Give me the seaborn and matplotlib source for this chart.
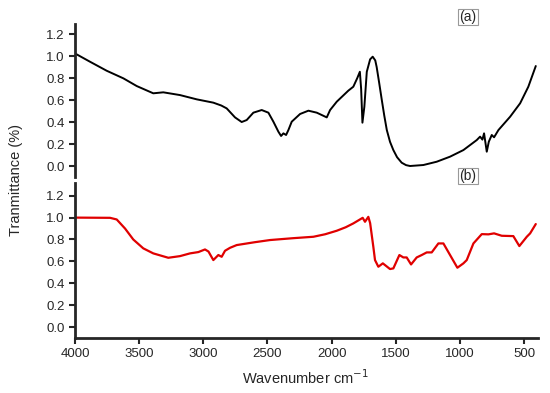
import numpy as np
import pandas as pd
import matplotlib.pyplot as plt
import seaborn as sns

sns.set_theme(style="ticks")
plt.rcParams['font.family'] = ['Liberation Sans', 'DejaVu Sans']

# (a) black spectrum
wn_a = [4000, 3987, 3883, 3753, 3623, 3519, 3390, 3312, 3182, 3051, 2922, 2860,
        2818, 2753, 2701, 2662, 2610, 2545, 2493, 2454, 2415, 2394, 2376, 2355,
        2337, 2311, 2246, 2181, 2116, 2065, 2038, 2012, 1960, 1870, 1831, 1800,
        1780, 1770, 1760, 1745, 1726, 1700, 1680, 1660, 1649, 1630, 1609, 1590,
        1570, 1545, 1519, 1490, 1454, 1420, 1389, 1285, 1181, 1077, 973, 869,
        843, 825, 812, 791, 775, 752, 734, 700, 609, 531, 467, 409]
tr_a = [1.02, 1.015, 0.948, 0.866, 0.797, 0.727, 0.661, 0.670, 0.645, 0.606, 0.576, 0.55,
        0.524, 0.442, 0.40, 0.418, 0.485, 0.509, 0.485, 0.403, 0.312, 0.273, 0.297, 0.282,
        0.327, 0.403, 0.473, 0.503, 0.485, 0.457, 0.442, 0.509, 0.585, 0.685, 0.721, 0.80,
        0.857, 0.70, 0.394, 0.539, 0.857, 0.97, 0.994, 0.96, 0.90, 0.76, 0.60, 0.46,
        0.327, 0.22, 0.145, 0.08, 0.03, 0.008, 0.0, 0.009, 0.039, 0.085, 0.145, 0.236,
        0.267, 0.24, 0.297, 0.13, 0.221, 0.282, 0.261, 0.327, 0.448, 0.57, 0.721, 0.909]

# (b) red spectrum
wn_b = [4000, 3727, 3675, 3610, 3546, 3468, 3390, 3273, 3182, 3104, 3039, 2987,
        2960, 2922, 2883, 2857, 2831, 2792, 2740, 2600, 2480, 2300, 2142, 2050,
        1960, 1890, 1831, 1758, 1740, 1714, 1700, 1675, 1662, 1636, 1601, 1545,
        1519, 1472, 1441, 1415, 1381, 1337, 1298, 1259, 1220, 1168, 1129, 1077,
        1020, 973, 947, 895, 830, 778, 734, 674, 584, 537, 479, 453, 409]
tr_b = [1.0, 0.998, 0.983, 0.90, 0.80, 0.719, 0.673, 0.633, 0.648, 0.673, 0.685, 0.709,
        0.69, 0.612, 0.658, 0.642, 0.697, 0.724, 0.749, 0.775, 0.795, 0.812, 0.825, 0.848,
        0.88, 0.912, 0.947, 0.998, 0.962, 1.007, 0.95, 0.733, 0.612, 0.551, 0.582, 0.53,
        0.536, 0.658, 0.636, 0.636, 0.572, 0.636, 0.658, 0.682, 0.682, 0.764, 0.764, 0.658,
        0.542, 0.582, 0.612, 0.764, 0.849, 0.847, 0.856, 0.834, 0.831, 0.74, 0.825, 0.856, 0.941]

yticks = [0.0, 0.2, 0.4, 0.6, 0.8, 1.0, 1.2]
xticks = [4000, 3500, 3000, 2500, 2000, 1500, 1000, 500]

df_a = pd.DataFrame({'wn': wn_a, 'T': tr_a})
df_b = pd.DataFrame({'wn': wn_b, 'T': tr_b})

fig = plt.figure(figsize=(5.5, 3.93), dpi=100)
ax1 = fig.add_axes([0.1364, 0.5496, 0.841, 0.389])
ax2 = fig.add_axes([0.1364, 0.140, 0.841, 0.394])

sns.lineplot(data=df_a, x='wn', y='T', ax=ax1, color='black', lw=1.4, estimator=None)
sns.lineplot(data=df_b, x='wn', y='T', ax=ax2, color='#e00000', lw=1.6, estimator=None)

for ax in (ax1, ax2):
    ax.set_xlim(4000, 395)
    ax.set_yticks(yticks)
    ax.set_yticklabels([f'{v:.1f}' for v in yticks])
    ax.set_xlabel('')
    ax.set_ylabel('')
    for s in ('top', 'right'):
        ax.spines[s].set_visible(False)
    ax.spines['left'].set_linewidth(2)
    ax.spines['bottom'].set_linewidth(2)
    ax.tick_params(axis='both', labelsize=9.5, width=1.5, length=4, direction='out')

ax1.set_ylim(-0.1, 1.29)
ax2.set_ylim(-0.1, 1.315)
ax1.spines['bottom'].set_visible(False)
ax1.set_xticks([])
ax2.set_xticks(xticks)
ax2.set_xticklabels([str(v) for v in xticks])

box = dict(boxstyle='square,pad=0.1', fc='white', ec='#999999', lw=0.8)
fig.text(0.851, 0.957, '(a)', ha='center', va='center', fontsize=10, bbox=box)
fig.text(0.851, 0.552, '(b)', ha='center', va='center', fontsize=10, bbox=box)

fig.text(0.03, 0.542, 'Tranmittance (%)', rotation=90, ha='center', va='center', fontsize=10.5)
fig.text(0.555, 0.038, 'Wavenumber cm$^{-1}$', ha='center', va='center', fontsize=10.5)

plt.savefig('out.png', dpi=100)
plt.close()
